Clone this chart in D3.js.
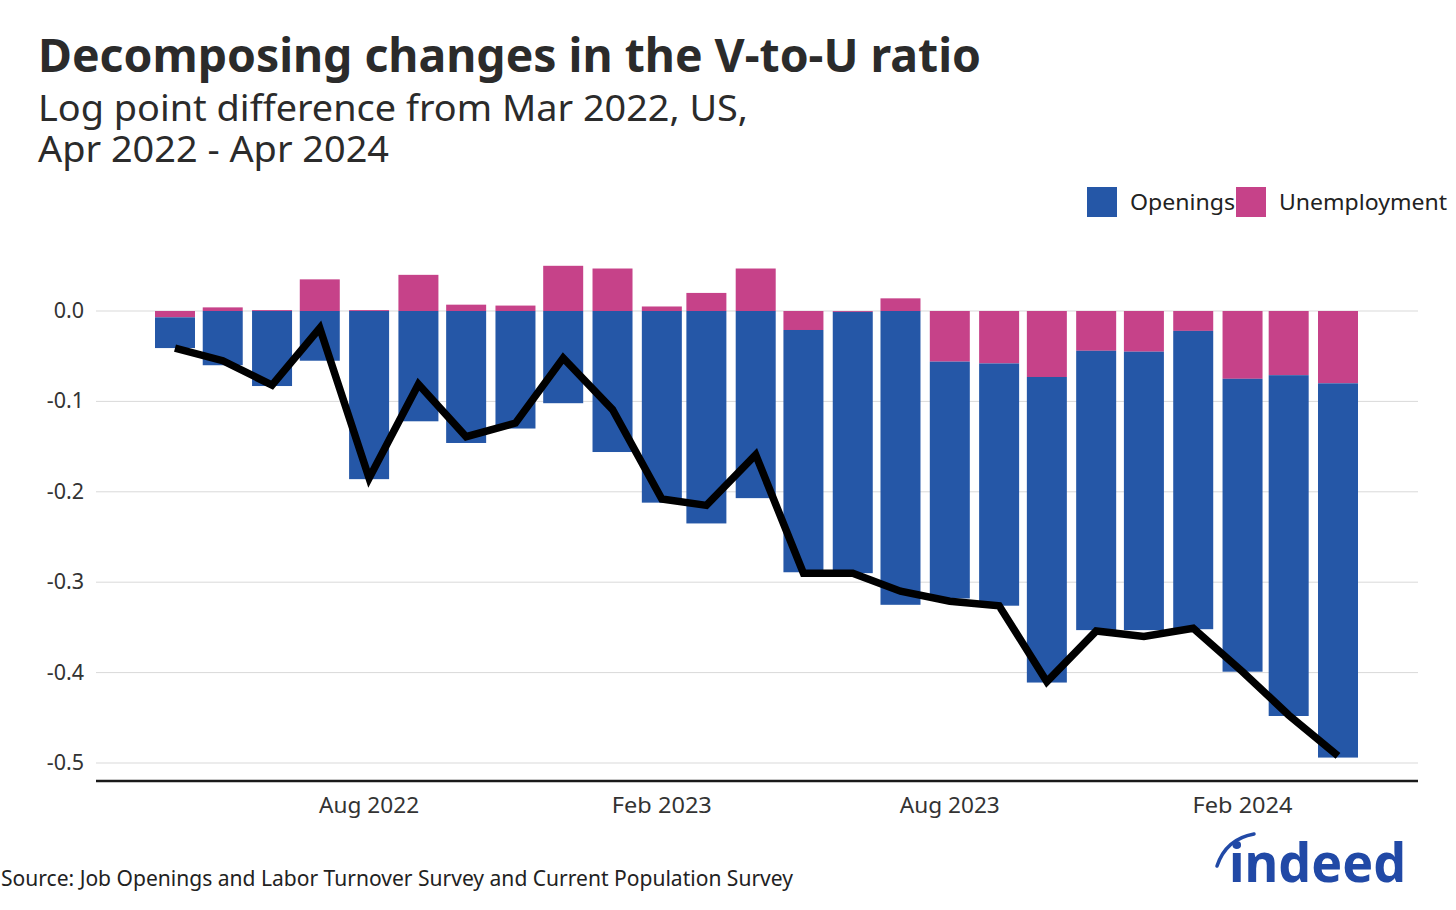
<!DOCTYPE html>
<html>
<head>
<meta charset="utf-8">
<script src="https://cdn.jsdelivr.net/npm/d3@7"></script>
<style>
	body { margin: 0; background: #fff; }
	svg text { font-family: 'Noto Sans', sans-serif; }
</style>
</head>
<body>
<div id="chart"></div>
<script>
// months, Apr 2022 - Apr 2024
var months = ['2022-04', '2022-05', '2022-06', '2022-07', '2022-08', '2022-09', '2022-10', '2022-11', '2022-12',
	'2023-01', '2023-02', '2023-03', '2023-04', '2023-05', '2023-06', '2023-07', '2023-08', '2023-09', '2023-10',
	'2023-11', '2023-12', '2024-01', '2024-02', '2024-03', '2024-04'];
var openings = [-0.034, -0.060, -0.083, -0.055, -0.186, -0.122, -0.146, -0.130, -0.102,
	-0.156, -0.212, -0.235, -0.207, -0.268, -0.289, -0.325, -0.262, -0.268, -0.338,
	-0.309, -0.308, -0.330, -0.324, -0.377, -0.414];
var unemployment = [-0.007, 0.004, 0.001, 0.035, 0.001, 0.040, 0.007, 0.006, 0.050,
	0.047, 0.005, 0.020, 0.047, -0.021, -0.001, 0.014, -0.056, -0.058, -0.073,
	-0.044, -0.045, -0.022, -0.075, -0.071, -0.080];
var total = [-0.041, -0.055, -0.082, -0.019, -0.185, -0.081, -0.139, -0.124, -0.052,
	-0.109, -0.208, -0.215, -0.159, -0.290, -0.290, -0.310, -0.321, -0.326, -0.410,
	-0.354, -0.360, -0.351, -0.399, -0.447, -0.492];
var yTicks = [0, -0.1, -0.2, -0.3, -0.4, -0.5];
var xTicks = ['2022-08', '2023-02', '2023-08', '2024-02'];
var seriesNames = ['Openings', 'Unemployment'];

const WIDTH = 1456;
const HEIGHT = 910;
const BLUE = '#2557a7';
const PINK = '#c64289';
var parse = d3.timeParse('%Y-%m');
var fmt = d3.timeFormat('%b %Y');

var svg = d3.select('#chart').append('svg')
	.attr('width', WIDTH)
	.attr('height', HEIGHT);

var x = d3.scaleTime()
	.domain([parse(months[0]), parse(months[months.length - 1])])
	.range([175, 1338]);
var y = d3.scaleLinear()
	.domain([0, -0.5])
	.range([311, 763]);
var color = d3.scaleOrdinal().domain(seriesNames).range([BLUE, PINK]);
var barW = 40;

// titles
svg.append('text')
	.attr('x', 38).attr('y', 72)
	.attr('textLength', 943).attr('lengthAdjust', 'spacingAndGlyphs')
	.style('font-size', '46px').style('font-weight', 700)
	.attr('fill', '#2b2b2b')
	.text('Decomposing changes in the V-to-U ratio');
var sub = svg.append('text')
	.style('font-size', '37px')
	.attr('fill', '#2b2b2b');
sub.append('tspan')
	.attr('x', 38).attr('y', 121)
	.attr('textLength', 710).attr('lengthAdjust', 'spacingAndGlyphs')
	.text('Log point difference from Mar 2022, US,');
sub.append('tspan')
	.attr('x', 38).attr('y', 162)
	.attr('textLength', 351).attr('lengthAdjust', 'spacingAndGlyphs')
	.text('Apr 2022 - Apr 2024');

// legend
var legend = svg.append('g');
var legendX = [1087, 1236];
var legendLen = [105, 168];
seriesNames.forEach(function (name, i) {
	legend.append('rect')
		.attr('x', legendX[i]).attr('y', 187)
		.attr('width', 30).attr('height', 30)
		.attr('fill', color(name));
	legend.append('text')
		.attr('x', legendX[i] + 43).attr('y', 210)
		.attr('textLength', legendLen[i]).attr('lengthAdjust', 'spacingAndGlyphs')
		.style('font-size', '22px')
		.attr('fill', '#222')
		.text(name);
});

// grid + y labels
svg.append('g').selectAll('line').data(yTicks)
	.enter().append('line')
	.attr('x1', 96).attr('x2', 1418)
	.attr('y1', function (d) { return y(d); })
	.attr('y2', function (d) { return y(d); })
	.attr('stroke', '#d9d9d9').attr('stroke-width', 1);
svg.append('g').selectAll('text').data(yTicks)
	.enter().append('text')
	.attr('x', 84)
	.attr('y', function (d) { return y(d) + 7; })
	.style('font-size', '21.5px')
	.style('text-anchor', 'end')
	.attr('fill', '#333')
	.text(function (d) { return d3.format('.1f')(d).replace('−', '-'); });

// bars: unemployment next to zero, openings stacked beyond it when same sign
var bars = svg.append('g');
months.forEach(function (m, i) {
	var cx = x(parse(m));
	var u = unemployment[i];
	var o = openings[i];
	var oStart = (u < 0) ? u : 0;
	bars.append('rect')
		.attr('x', cx - barW / 2).attr('width', barW)
		.attr('y', y(Math.max(0, u)))
		.attr('height', Math.abs(y(u) - y(0)))
		.attr('fill', PINK);
	bars.append('rect')
		.attr('x', cx - barW / 2).attr('width', barW)
		.attr('y', y(oStart))
		.attr('height', Math.abs(y(oStart + o) - y(oStart)))
		.attr('fill', BLUE);
});

// total line
var line = d3.line()
	.x(function (d, i) { return x(parse(months[i])); })
	.y(function (d) { return y(d); });
svg.append('path')
	.datum(total)
	.attr('d', line)
	.attr('fill', 'none')
	.attr('stroke', '#000')
	.attr('stroke-width', 7.5);

// x axis
svg.append('line')
	.attr('x1', 96).attr('x2', 1418)
	.attr('y1', 781).attr('y2', 781)
	.attr('stroke', '#1a1a1a').attr('stroke-width', 2.5);
svg.append('g').selectAll('text').data(xTicks)
	.enter().append('text')
	.attr('x', function (d) { return x(parse(d)); })
	.attr('y', 813)
	.attr('textLength', 100).attr('lengthAdjust', 'spacingAndGlyphs')
	.style('font-size', '22px')
	.style('text-anchor', 'middle')
	.attr('fill', '#333')
	.text(function (d) { return fmt(parse(d)); });

// source
svg.append('text')
	.attr('x', 1).attr('y', 886)
	.attr('textLength', 792).attr('lengthAdjust', 'spacingAndGlyphs')
	.style('font-size', '21px')
	.attr('fill', '#222')
	.text('Source: Job Openings and Labor Turnover Survey and Current Population Survey');

// logo
svg.append('path')
	.attr('d', 'M1217,866 Q1226,839 1254,834')
	.attr('fill', 'none')
	.attr('stroke', '#2149a6')
	.attr('stroke-width', 3.5)
	.attr('stroke-linecap', 'round');
svg.append('text')
	.attr('x', 1229).attr('y', 882)
	.attr('textLength', 177).attr('lengthAdjust', 'spacingAndGlyphs')
	.style('font-size', '54px').style('font-weight', 700)
	.attr('fill', '#2149a6')
	.text('indeed');
</script>
</body>
</html>
